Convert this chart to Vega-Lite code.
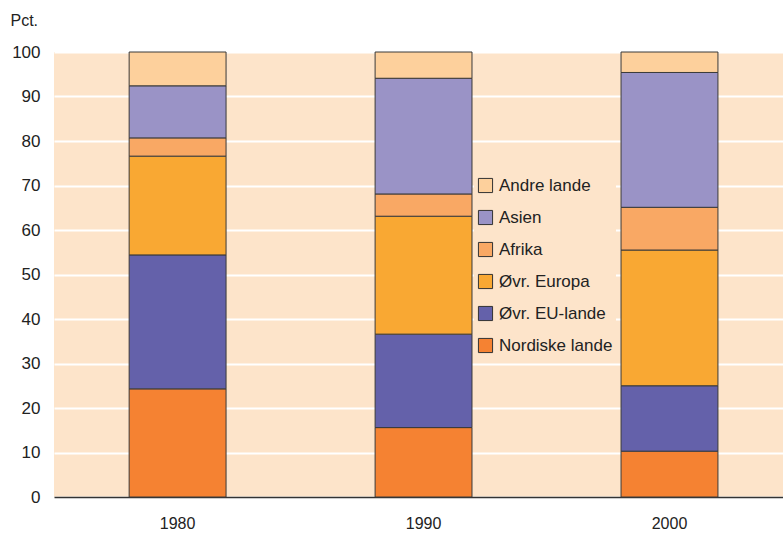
{
  "$schema": "https://vega.github.io/schema/vega-lite/v6.json",
  "width": 729,
  "height": 445,
  "autosize": {"type": "none"},
  "padding": {"left": 54, "top": 52, "right": 0, "bottom": 37},
  "background": "white",
  "config": {
    "view": {"fill": "#FDE4CA", "stroke": null},
    "font": "Liberation Sans",
    "axis": {"labelFont": "Liberation Sans", "titleFont": "Liberation Sans"},
    "legend": {"labelFont": "Liberation Sans"}
  },
  "data": {
    "values": [
      {"year": "1980", "region": "Nordiske lande", "ord": 1, "pct": 24.3},
      {"year": "1980", "region": "Øvr. EU-lande", "ord": 2, "pct": 30.1},
      {"year": "1980", "region": "Øvr. Europa", "ord": 3, "pct": 22.2},
      {"year": "1980", "region": "Afrika", "ord": 4, "pct": 4.1},
      {"year": "1980", "region": "Asien", "ord": 5, "pct": 11.7},
      {"year": "1980", "region": "Andre lande", "ord": 6, "pct": 7.6},
      {"year": "1990", "region": "Nordiske lande", "ord": 1, "pct": 15.6},
      {"year": "1990", "region": "Øvr. EU-lande", "ord": 2, "pct": 21.0},
      {"year": "1990", "region": "Øvr. Europa", "ord": 3, "pct": 26.5},
      {"year": "1990", "region": "Afrika", "ord": 4, "pct": 5.0},
      {"year": "1990", "region": "Asien", "ord": 5, "pct": 26.0},
      {"year": "1990", "region": "Andre lande", "ord": 6, "pct": 5.9},
      {"year": "2000", "region": "Nordiske lande", "ord": 1, "pct": 10.3},
      {"year": "2000", "region": "Øvr. EU-lande", "ord": 2, "pct": 14.7},
      {"year": "2000", "region": "Øvr. Europa", "ord": 3, "pct": 30.5},
      {"year": "2000", "region": "Afrika", "ord": 4, "pct": 9.6},
      {"year": "2000", "region": "Asien", "ord": 5, "pct": 30.3},
      {"year": "2000", "region": "Andre lande", "ord": 6, "pct": 4.6}
    ]
  },
  "mark": {"type": "bar", "stroke": "#3a3a3a", "strokeWidth": 1},
  "encoding": {
    "x": {
      "field": "year",
      "type": "ordinal",
      "scale": {"paddingInner": 0.606, "paddingOuter": 0.285, "align": 0.536},
      "axis": {
        "title": null,
        "labelAngle": 0,
        "labelFontSize": 16,
        "labelColor": "#222",
        "labelPadding": 18,
        "ticks": false,
        "domainColor": "#333",
        "domainWidth": 1.5,
        "grid": false
      }
    },
    "y": {
      "field": "pct",
      "type": "quantitative",
      "stack": "zero",
      "scale": {"domain": [0, 100], "nice": false},
      "axis": {
        "values": [0, 10, 20, 30, 40, 50, 60, 70, 80, 90, 100],
        "domain": false,
        "ticks": false,
        "labelFontSize": 17,
        "labelColor": "#222",
        "labelPadding": 14,
        "grid": true,
        "gridColor": "white",
        "gridWidth": 2,
        "gridOpacity": 1,
        "title": "Pct.",
        "titleAngle": 0,
        "titleAlign": "left",
        "titleBaseline": "middle",
        "titleFontWeight": "normal",
        "titleFontSize": 16,
        "titleColor": "#222",
        "titleX": -44,
        "titleY": -32
      }
    },
    "order": {"field": "ord", "type": "quantitative", "sort": "ascending"},
    "color": {
      "field": "region",
      "type": "nominal",
      "scale": {
        "domain": ["Nordiske lande", "Øvr. EU-lande", "Øvr. Europa", "Afrika", "Asien", "Andre lande"],
        "range": ["#F58232", "#6461AA", "#F9A833", "#F9A864", "#9A93C6", "#FDD09C"]
      },
      "legend": {
        "title": null,
        "orient": "none",
        "legendX": 420,
        "legendY": 122,
        "values": ["Andre lande", "Asien", "Afrika", "Øvr. Europa", "Øvr. EU-lande", "Nordiske lande"],
        "symbolType": "square",
        "symbolSize": 200,
        "symbolStrokeColor": "#333",
        "symbolStrokeWidth": 1,
        "symbolOpacity": 1,
        "labelFontSize": 17,
        "labelColor": "#222",
        "labelOffset": 5,
        "rowPadding": 13,
        "fillColor": "#FDE4CA",
        "padding": 3
      }
    }
  }
}
